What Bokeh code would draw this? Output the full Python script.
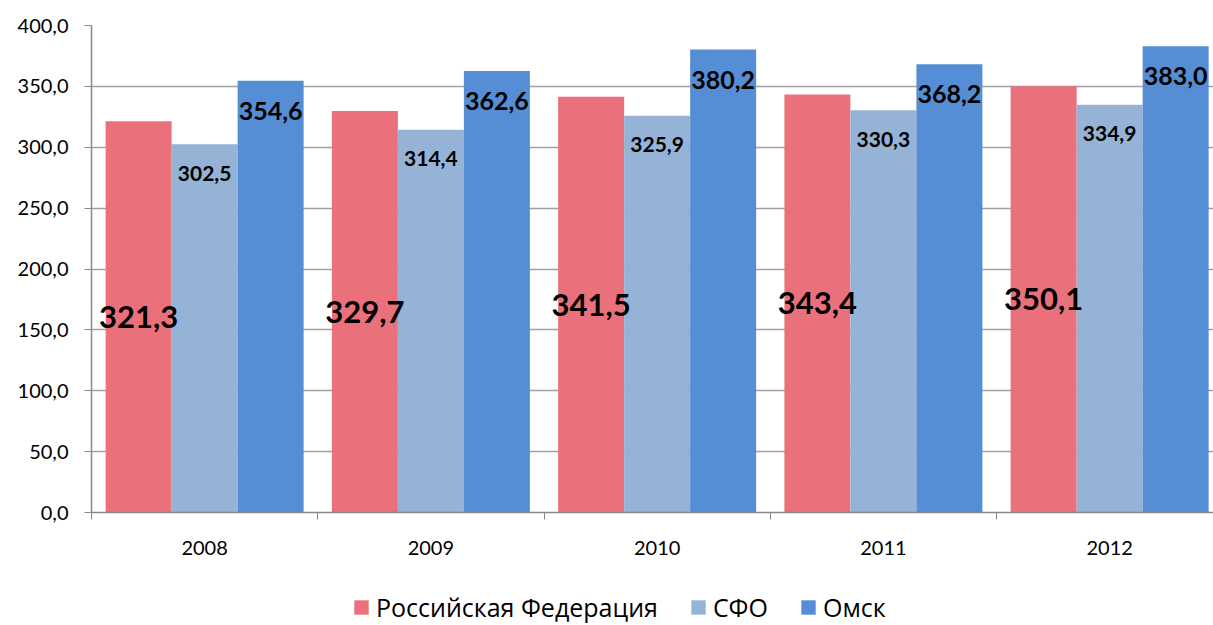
from bokeh.plotting import figure
from bokeh.layouts import column
from bokeh.models import (Range1d, FixedTicker, CustomJSTickFormatter, Legend, LegendItem,
                          ColumnDataSource)
from bokeh.core.properties import value
from bokeh.embed import file_html
from bokeh.resources import INLINE

years = ["2008", "2009", "2010", "2011", "2012"]
rf = [321.3, 329.7, 341.5, 343.4, 350.1]
sfo = [302.5, 314.4, 325.9, 330.3, 334.9]
omsk = [354.6, 362.6, 380.2, 368.2, 383.0]
series_names = ["Российская Федерация", "СФО", "Омск"]
colors = ["#EA717B", "#95B3D7", "#558ED5"]

def fmt(v):
    return f"{v:.1f}".replace(".", ",")

centers = [i + 0.5 for i in range(len(years))]
bw = 0.2917

p = figure(width=1213, height=580, output_backend="svg", toolbar_location=None,
           x_range=Range1d(0, 4.959), y_range=Range1d(0, 400),
           min_border_left=91, min_border_right=0, min_border_top=25, min_border_bottom=68)
p.outline_line_color = None
p.background_fill_color = "white"
p.border_fill_color = "white"

sources = []
for k, (vals, col) in enumerate(zip([rf, sfo, omsk], colors)):
    xs = [c + (k - 1) * bw for c in centers]
    src = ColumnDataSource(dict(x=xs, top=vals, lab=[fmt(v) for v in vals],
                                half=[v / 2 for v in vals]))
    sources.append(src)
    p.vbar(x="x", top="top", width=bw, bottom=0, source=src, fill_color=col, line_color=None)

# data labels (drawn after all bars)
p.text(x="x", y="half", text="lab", source=sources[0], text_align="center", text_baseline="middle",
       text_font=value("Lato"), text_font_style="bold", text_font_size="31px", text_color="black")
p.text(x="x", y="top", text="lab", source=sources[1], text_align="center", text_baseline="middle",
       y_offset=29, text_font=value("Lato"), text_font_style="bold", text_font_size="21px",
       text_color="black")
p.text(x="x", y="top", text="lab", source=sources[2], text_align="center", text_baseline="middle",
       y_offset=30, text_font=value("Lato"), text_font_style="bold", text_font_size="25px",
       text_color="black")

# axes
ax = p.xaxis[0]
ax.ticker = FixedTicker(ticks=centers, minor_ticks=list(range(len(years) + 1)))
ax.major_label_overrides = {c: y for c, y in zip(centers, years)}
ax.major_tick_out = 0
ax.major_tick_in = 0
ax.minor_tick_out = 7
ax.minor_tick_in = 0
ax.minor_tick_line_color = "#888888"
ax.axis_line_color = "#888888"
ax.axis_line_width = 1.5
ax.major_label_text_font = "Lato"
ax.major_label_text_font_size = "20px"
ax.major_label_text_color = "black"
ax.major_label_standoff = 21

ay = p.yaxis[0]
ay.ticker = FixedTicker(ticks=list(range(0, 401, 50)))
ay.formatter = CustomJSTickFormatter(code="return tick.toFixed(1).replace('.', ',');")
ay.major_tick_out = 7
ay.major_tick_in = 0
ay.minor_tick_out = 0
ay.minor_tick_in = 0
ay.major_tick_line_color = "#888888"
ay.axis_line_color = "#888888"
ay.axis_line_width = 1.5
ay.major_label_text_font = "Lato"
ay.major_label_text_font_size = "20px"
ay.major_label_text_color = "black"
ay.major_label_standoff = 16

p.xgrid.grid_line_color = None
p.ygrid.grid_line_color = "#A0A0A0"
p.ygrid.grid_line_width = 1.5

# legend strip
lg = figure(width=1213, height=45, output_backend="svg", toolbar_location=None,
            x_axis_type=None, y_axis_type=None, x_range=Range1d(0, 1), y_range=Range1d(0, 1),
            min_border_left=0, min_border_right=0, min_border_top=0, min_border_bottom=0)
lg.outline_line_color = None
lg.xgrid.grid_line_color = None
lg.ygrid.grid_line_color = None
lg_renderers = []
for col in colors:
    # single point outside the visible range: only its legend swatch shows
    r = lg.vbar(x=[5], top=[5], bottom=[4], width=0.1, fill_color=col, line_color=None)
    lg_renderers.append(r)

legend = Legend(items=[LegendItem(label=n, renderers=[r]) for n, r in zip(series_names, lg_renderers)],
                orientation="horizontal", location=(261, 1),
                glyph_width=18, glyph_height=18, label_standoff=6, spacing=31, padding=0, margin=0,
                label_text_font="Open Sans", label_text_font_size="25px", label_text_color="black",
                border_line_color=None, background_fill_alpha=0)
lg.add_layout(legend, "center")

layout = column(p, lg, spacing=0)
open("out.html", "w").write(file_html(layout, INLINE))
